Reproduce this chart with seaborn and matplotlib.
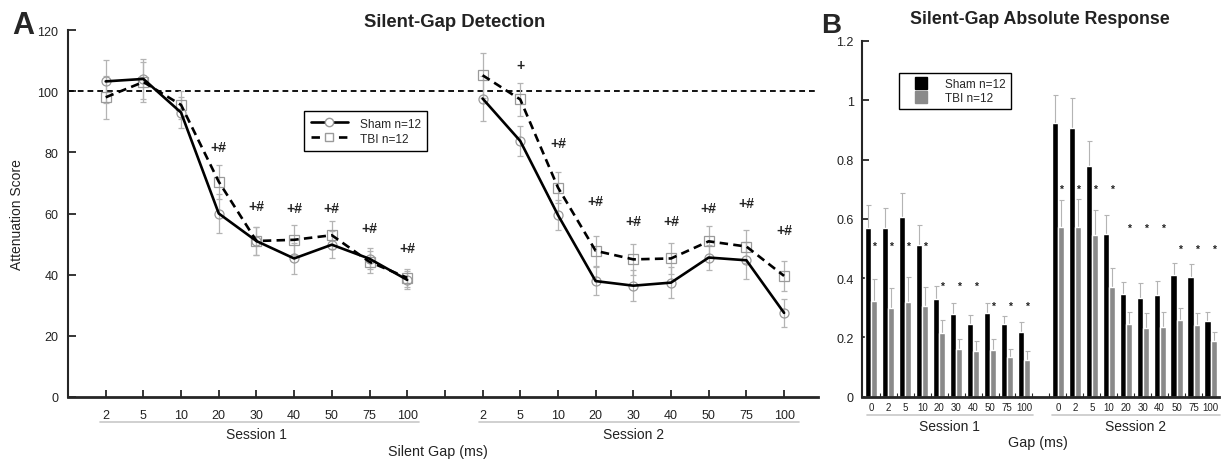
import numpy as np
import pandas as pd
import matplotlib
matplotlib.use("Agg")
import matplotlib.pyplot as plt
import seaborn as sns
from matplotlib.lines import Line2D

# ---------------- data: panel A (attenuation score) ----------------
gaps_A = ["2", "5", "10", "20", "30", "40", "50", "75", "100"]
sessions = ["Session 1", "Session 2"]
groups = ["Sham", "TBI"]

sham_s1 = [103.2, 104.0, 93.0, 60.0, 51.0, 45.3, 49.8, 45.2, 38.3]
tbi_s1 = [98.0, 103.0, 95.5, 70.4, 51.0, 51.4, 52.9, 44.2, 39.0]
sham_s2 = [97.6, 83.7, 59.5, 37.9, 36.4, 37.4, 45.6, 44.7, 27.5]
tbi_s2 = [105.2, 97.3, 68.5, 47.8, 45.0, 45.3, 50.9, 49.2, 39.6]

sham_s1_err = [7.0, 6.5, 5.0, 6.5, 4.5, 5.0, 4.5, 3.5, 3.0]
tbi_s1_err = [7.0, 6.5, 4.5, 5.5, 4.5, 5.0, 4.5, 3.5, 3.0]
sham_s2_err = [7.3, 5.0, 5.0, 4.7, 5.0, 5.0, 4.0, 6.0, 4.7]
tbi_s2_err = [7.4, 5.5, 5.0, 5.0, 5.0, 5.0, 5.0, 5.5, 5.0]

sig_s1 = ["", "", "", "+#", "+#", "+#", "+#", "+#", "+#"]
sig_s1_y = [np.nan, np.nan, np.nan, 81.6, 62.5, 61.7, 61.7, 55.2, 48.7]
sig_s2 = ["", "+", "+#", "+#", "+#", "+#", "+#", "+#", "+#"]
sig_s2_y = [np.nan, 108.6, 83.0, 64.2, 57.6, 57.6, 61.7, 63.3, 54.6]

# ---------------- data: panel B (absolute response) ----------------
gaps_B = ["0", "2", "5", "10", "20", "30", "40", "50", "75", "100"]
sham_b1 = [0.570, 0.568, 0.607, 0.510, 0.331, 0.279, 0.244, 0.282, 0.244, 0.219]
tbi_b1 = [0.323, 0.300, 0.320, 0.305, 0.213, 0.161, 0.154, 0.158, 0.132, 0.122]
sham_b1_err = [0.076, 0.070, 0.080, 0.069, 0.043, 0.037, 0.031, 0.033, 0.028, 0.032]
tbi_b1_err = [0.074, 0.066, 0.082, 0.065, 0.045, 0.035, 0.034, 0.035, 0.029, 0.032]
sham_b2 = [0.923, 0.908, 0.779, 0.549, 0.346, 0.334, 0.342, 0.409, 0.402, 0.256]
tbi_b2 = [0.572, 0.572, 0.545, 0.371, 0.245, 0.232, 0.236, 0.260, 0.240, 0.188]
sham_b2_err = [0.094, 0.100, 0.085, 0.063, 0.041, 0.051, 0.049, 0.041, 0.044, 0.030]
tbi_b2_err = [0.091, 0.095, 0.086, 0.063, 0.042, 0.051, 0.051, 0.040, 0.043, 0.030]
star_b1_y = [0.508, 0.508, 0.508, 0.508, 0.375, 0.375, 0.375, 0.305, 0.305, 0.305]
star_b2_y = [0.700, 0.700, 0.700, 0.700, 0.570, 0.570, 0.570, 0.498, 0.498, 0.498]

# ---------------- style ----------------
sns.set_theme(style="ticks")
plt.rcParams["font.family"] = ["Liberation Sans", "DejaVu Sans"]
plt.rcParams["axes.linewidth"] = 1.5
TXT = "#222222"
ERR = "#b4b4b4"
GRAYBAR = "#8a8a8a"
SESSLINE = "#c8c8c8"

fig = plt.figure(figsize=(12.24, 4.64), dpi=100)
W, H = 1224, 464
axA = fig.add_axes([68 / W, (H - 398) / H, 750 / W, 367 / H])
axB = fig.add_axes([862 / W, (H - 397.6) / H, 357 / W, 355.6 / H])

# ================= Panel A =================
rows = []
A_vals = {("Sham", 0): (sham_s1, sham_s1_err), ("TBI", 0): (tbi_s1, tbi_s1_err),
          ("Sham", 1): (sham_s2, sham_s2_err), ("TBI", 1): (tbi_s2, tbi_s2_err)}
for (g, s), (vals, errs) in A_vals.items():
    for i, (v, e) in enumerate(zip(vals, errs)):
        rows.append(dict(pos=1 + i + 10 * s, score=v, err=e, group=g, session=sessions[s]))
dfA = pd.DataFrame(rows)

axA.axhline(100, color="black", lw=1.3, ls=(0, (3.2, 2.2)), zorder=1)

for g, mk in zip(groups, ["o", "s"]):
    d = dfA[dfA.group == g]
    axA.errorbar(d.pos, d.score, yerr=d.err, fmt=mk, ms=6.5, mfc="none", mec="#9a9a9a",
                 mew=0.9, ecolor=ERR, elinewidth=0.9, capsize=2.2, capthick=0.9, zorder=2)

sns.lineplot(data=dfA, x="pos", y="score", hue="group", style="group", units="session",
             estimator=None, palette={"Sham": "black", "TBI": "black"},
             dashes={"Sham": "", "TBI": (3.2, 2.0)}, lw=1.9, legend=False, ax=axA,
             sort=True, zorder=3)

for s, (labs, ys) in enumerate([(sig_s1, sig_s1_y), (sig_s2, sig_s2_y)]):
    for i, (lab, y) in enumerate(zip(labs, ys)):
        if lab:
            axA.text(1 + i + 10 * s, y, lab, ha="center", va="center", fontsize=10,
                     fontweight="bold", color=TXT)

axA.set_xlim(0, 19.9)
axA.set_ylim(0, 120)
axA.set_yticks(np.arange(0, 121, 20))
axA.set_yticklabels([str(v) for v in range(0, 121, 20)])
axA.set_xticks(list(range(1, 20)))
axA.set_xticklabels(gaps_A + [""] + gaps_A)
axA.tick_params(axis="x", direction="in", length=5, width=1.3, labelsize=9, pad=9,
                labelcolor=TXT)
axA.tick_params(axis="y", direction="in", length=6, width=1.3, labelsize=9, pad=7,
                labelcolor=TXT)
sns.despine(ax=axA)
axA.spines["bottom"].set_linewidth(2)
axA.set_xlabel("")
axA.set_ylabel("Attenuation Score", fontsize=10, color=TXT)
axA.yaxis.set_label_coords(-0.058, 0.5)

tA = axA.get_xaxis_transform()
for s, (x0, x1) in enumerate([(0.85, 9.32), (10.9, 19.4)]):
    axA.plot([x0, x1], [-0.068, -0.068], transform=tA, color=SESSLINE, lw=1.2, clip_on=False)
    axA.text(5 + 10 * s, -0.101, sessions[s], transform=tA, ha="center", va="center",
             fontsize=10, color=TXT)

legA = axA.legend(handles=[Line2D([], [], color="black", lw=1.9, marker="o", ms=6, mfc="white",
                                  mec="#9a9a9a"),
                           Line2D([], [], color="black", lw=1.9, ls=(0, (3.2, 2.0)), marker="s",
                                  ms=6, mfc="white", mec="#9a9a9a")],
                  labels=["Sham n=12", "TBI n=12"], loc="upper left",
                  bbox_to_anchor=(0.315, 0.779), borderaxespad=0, fontsize=8.6,
                  frameon=True, fancybox=False, framealpha=1, edgecolor="black",
                  handlelength=3.1, handletextpad=1.0, labelspacing=0.25, borderpad=0.55)
legA.get_frame().set_linewidth(1.0)

# ================= Panel B =================
rowsB = []
B_vals = {("Sham", 0): (sham_b1, sham_b1_err), ("TBI", 0): (tbi_b1, tbi_b1_err),
          ("Sham", 1): (sham_b2, sham_b2_err), ("TBI", 1): (tbi_b2, tbi_b2_err)}
for (g, s), (vals, errs) in B_vals.items():
    for i, (v, e) in enumerate(zip(vals, errs)):
        rowsB.append(dict(key=f"s{s + 1}_{gaps_B[i]}", value=v, err=e, group=g))
dfB = pd.DataFrame(rowsB)
order = [f"s1_{g}" for g in gaps_B] + ["gap"] + [f"s2_{g}" for g in gaps_B]

sns.barplot(data=dfB, x="key", y="value", hue="group", order=order, hue_order=groups,
            palette={"Sham": "black", "TBI": GRAYBAR}, width=0.72, errorbar=None,
            saturation=1, legend=False, ax=axB, zorder=2)

err_lookup = {(r.key, r.group): r.err for r in dfB.itertuples()}
gray_centers = {}
for cont, g in zip(axB.containers, groups):
    for bar in cont:
        h = bar.get_height()
        if not np.isfinite(h):
            continue
        xc = bar.get_x() + bar.get_width() / 2
        key = order[int(round(xc))]
        e = err_lookup[(key, g)]
        axB.errorbar([xc], [h], yerr=[e], fmt="none", ecolor=ERR, elinewidth=0.8,
                     capsize=1.8, capthick=0.8, zorder=1.5)
        if g == "TBI":
            gray_centers[key] = xc

for s, ys in enumerate([star_b1_y, star_b2_y]):
    for i, y in enumerate(ys):
        key = f"s{s + 1}_{gaps_B[i]}"
        axB.text(gray_centers[key], y, "*", ha="center", va="center", fontsize=7.5,
                 fontweight="bold", color=TXT)

axB.set_xlim(-0.55, 20.5)
axB.set_ylim(0, 1.2)
axB.set_yticks([0, 0.2, 0.4, 0.6, 0.8, 1.0, 1.2])
axB.set_yticklabels(["0", "0.2", "0.4", "0.6", "0.8", "1", "1.2"])
posB = [i for i, k in enumerate(order) if k != "gap"]
axB.set_xticks(posB)
axB.set_xticklabels(gaps_B + gaps_B)
axB.set_xticks(np.arange(0.5, 20, 1.0), minor=True)
axB.tick_params(axis="x", which="major", length=0, labelsize=7, pad=4, labelcolor=TXT)
axB.tick_params(axis="x", which="minor", direction="in", length=3, width=0.8)
axB.tick_params(axis="y", direction="in", length=5, width=1.3, labelsize=9, pad=6,
                labelcolor=TXT)
sns.despine(ax=axB)
axB.spines["bottom"].set_linewidth(2)
axB.set_xlabel("")
axB.set_ylabel("")

tB = axB.get_xaxis_transform()
for s, (x0, x1, xc) in enumerate([(-0.26, 9.53, 4.6), (10.65, 20.55, 15.6)]):
    axB.plot([x0, x1], [-0.052, -0.052], transform=tB, color=SESSLINE, lw=1.2, clip_on=False)
    axB.text(xc, -0.083, sessions[s], transform=tB, ha="center", va="center",
             fontsize=10, color=TXT)

legB = axB.legend(handles=[Line2D([], [], ls="none", marker="s", ms=9, mfc="black", mec="black"),
                           Line2D([], [], ls="none", marker="s", ms=9, mfc=GRAYBAR, mec=GRAYBAR)],
                  labels=["Sham n=12", "TBI n=12"], loc="upper left",
                  bbox_to_anchor=(0.104, 0.91), borderaxespad=0, fontsize=8.5,
                  frameon=True, fancybox=False, framealpha=1, edgecolor="black",
                  handlelength=2.8, handletextpad=0.6, labelspacing=0.15, borderpad=0.45)
legB.get_frame().set_linewidth(1.0)

# ================= figure texts =================
fig.text(12 / W, 1 - 34 / H, "A", fontsize=22, fontweight="bold", ha="left", va="baseline")
fig.text(821 / W, 1 - 33 / H, "B", fontsize=20, fontweight="bold", ha="left", va="baseline")
fig.text(455 / W, 1 - 27 / H, "Silent-Gap Detection", fontsize=13.3, fontweight="bold",
         ha="center", va="baseline", color=TXT)
fig.text(1040 / W, 1 - 24 / H, "Silent-Gap Absolute Response", fontsize=12.8,
         fontweight="bold", ha="center", va="baseline", color=TXT)
fig.text(438 / W, 1 - 452 / H, "Silent Gap (ms)", fontsize=10.3, ha="center", va="center",
         color=TXT)
fig.text(1038 / W, 1 - 443 / H, "Gap (ms)", fontsize=10.3, ha="center", va="center", color=TXT)

fig.savefig("out.png", dpi=100)
